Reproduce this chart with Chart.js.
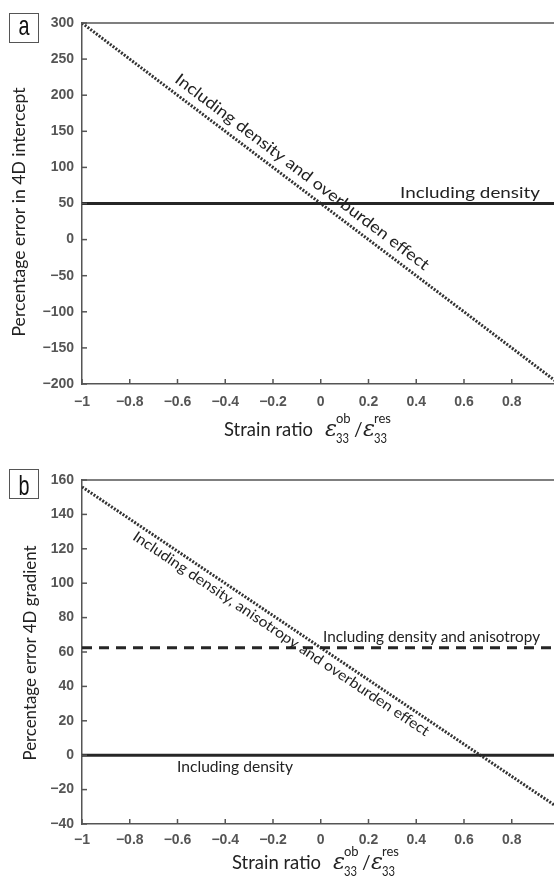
<!DOCTYPE html>
<html><head><meta charset="utf-8">
<script src="https://cdn.jsdelivr.net/npm/chart.js@4.4.1/dist/chart.umd.min.js"></script>
<style>
html,body{margin:0;padding:0;background:#fff;}
#wrap{position:relative;width:554px;height:876px;overflow:hidden;}
canvas{position:absolute;left:0;}
</style></head><body>
<div id="wrap">
<canvas id="ca" width="554" height="460" style="top:0"></canvas>
<canvas id="cb" width="554" height="438" style="top:438px"></canvas>
</div>
<script>
// ---- data ----
const strainRatio = [-1, 1];
const interceptDensity = [50, 50];
const interceptDensityOverburden = [300, -200];
const gradientDensity = [0, 0];
const gradientDensityAnisotropy = [62.5, 62.5];
const gradientDensityAnisotropyOverburden = [156, -31];
const xTickValues = [-1, -0.8, -0.6, -0.4, -0.2, 0, 0.2, 0.4, 0.6, 0.8];
const yTickValuesA = [300, 250, 200, 150, 100, 50, 0, -50, -100, -150, -200];
const yTickValuesB = [160, 140, 120, 100, 80, 60, 40, 20, 0, -20, -40];
const yTitleA = 'Percentage error in 4D intercept';
const yTitleB = 'Percentage error 4D gradient';

function pts(ys) { return strainRatio.map((x, i) => ({x: x, y: ys[i]})); }
function fmt(v) { return v < 0 ? '\u2212' + String(Math.abs(v)) : String(v); }

function drawText(ctx, text, x, y, o) {
  ctx.save();
  ctx.translate(x, y);
  ctx.rotate(o.angle || 0);
  ctx.font = o.font;
  const w = ctx.measureText(text).width;
  const sx = o.width ? o.width / w : 1;
  ctx.scale(sx, 1);
  ctx.textAlign = o.align || 'left';
  ctx.textBaseline = o.baseline || 'alphabetic';
  ctx.fillStyle = o.color || '#222';
  ctx.fillText(text, 0, 0);
  ctx.restore();
  return w * sx;
}

const decoPlugin = {
  id: 'deco',
  afterDraw(chart) {
    const o = chart.options.plugins.deco;
    const ctx = chart.ctx, xs = chart.scales.x, ys = chart.scales.y;
    const a = chart.chartArea;
    ctx.save();
    ctx.strokeStyle = '#555'; ctx.lineWidth = 1.5;
    ctx.beginPath(); ctx.moveTo(a.left, a.top); ctx.lineTo(a.right, a.top); ctx.stroke();
    xs.ticks.forEach(t => {
      const px = xs.getPixelForValue(t.value);
      ctx.beginPath(); ctx.moveTo(px, a.bottom); ctx.lineTo(px, a.bottom - 5); ctx.stroke();
    });
    ys.ticks.forEach(t => {
      const py = ys.getPixelForValue(t.value);
      ctx.beginPath(); ctx.moveTo(a.left, py); ctx.lineTo(a.left + 5, py); ctx.stroke();
    });
    o.notes.forEach(n => {
      let ang = 0;
      if (n.follow !== undefined) {
        const d = chart.data.datasets[n.follow].data;
        const x1 = xs.getPixelForValue(d[0].x), y1 = ys.getPixelForValue(d[0].y);
        const x2 = xs.getPixelForValue(d[1].x), y2 = ys.getPixelForValue(d[1].y);
        ang = Math.atan2(y2 - y1, x2 - x1);
      }
      drawText(ctx, n.text, xs.getPixelForValue(n.x), ys.getPixelForValue(n.y), {
        angle: ang, font: n.size + 'px Lato', width: n.width,
        align: n.align, baseline: 'middle', color: '#222'
      });
    });
    const yt = o.yTitle;
    drawText(ctx, yt.text, yt.cx, yt.cy, {angle: -Math.PI / 2, font: yt.size + 'px Lato',
      width: yt.width, align: 'center', baseline: 'middle', color: '#222'});
    const xt = o.xTitle;
    let x = xt.x0, b = xt.base;
    drawText(ctx, 'Strain ratio', x, b, {font: '19px Lato', width: 89, color: '#222'});
    const eps = (ex, sup) => {
      drawText(ctx, '\u03B5', ex, b, {font: 'italic 22px "DejaVu Serif"', width: 12, color: '#222'});
      drawText(ctx, '33', ex + 11, b + 7, {font: '13px Lato', width: 13, color: '#222'});
      drawText(ctx, sup, ex + 11, b - 13, {font: '13px Lato', color: '#222'});
    };
    eps(x + 101, 'ob');
    drawText(ctx, '/', x + 130, b, {font: '19px Lato', color: '#222'});
    eps(x + 139, 'res');
    const pl = o.panel;
    ctx.strokeStyle = '#555'; ctx.lineWidth = 1;
    ctx.strokeRect(pl.x + 0.5, pl.y + 0.5, 29, 29);
    drawText(ctx, pl.text, pl.x + 15, pl.base, {font: '28px "Liberation Sans"', width: 11,
      align: 'center', color: '#111'});
    ctx.restore();
  }
};

function makeChart(id, cfg) {
  return new Chart(document.getElementById(id), {
    type: 'line',
    data: {datasets: cfg.datasets},
    options: {
      responsive: false, animation: false, devicePixelRatio: 1,
      layout: {padding: {top: cfg.padTop, right: 0, left: 0, bottom: 0}},
      elements: {point: {radius: 0}, line: {tension: 0}},
      plugins: {legend: {display: false}, tooltip: {enabled: false}, deco: cfg.deco},
      scales: {
        x: {
          type: 'linear', min: -1, max: 0.977,
          afterBuildTicks: s => { s.ticks = xTickValues.map(v => ({value: v})); },
          afterFit: s => { s.height = cfg.xAxisH; },
          grid: {display: false, drawTicks: false},
          border: {display: true, color: '#555', width: 1.5},
          ticks: {padding: cfg.xTickPad, color: '#555', font: {family: 'Liberation Sans', size: 14, weight: 'bold'},
            callback: v => fmt(v), maxRotation: 0, autoSkip: false}
        },
        y: {
          type: 'linear', min: cfg.yTicks[cfg.yTicks.length - 1], max: cfg.yTicks[0],
          afterBuildTicks: s => { s.ticks = cfg.yTicks.map(v => ({value: v})); },
          afterFit: s => { s.width = 82; },
          grid: {display: false, drawTicks: false},
          border: {display: true, color: '#555', width: 1.5},
          ticks: {padding: 8, color: '#555', font: {family: 'Liberation Sans', size: 14, weight: 'bold'},
            callback: v => fmt(v), autoSkip: false}
        }
      }
    },
    plugins: [decoPlugin]
  });
}

makeChart('ca', {
  padTop: 23, xAxisH: 76, xTickPad: 10, yTicks: yTickValuesA,
  datasets: [
    {data: pts(interceptDensity), borderColor: '#262626', borderWidth: 3, fill: false},
    {data: pts(interceptDensityOverburden), borderColor: '#333', borderWidth: 3, borderDash: [2, 1.5], fill: false}
  ],
  deco: {
    notes: [
      {text: 'Including density and overburden effect', x: -0.078, y: 93.6, follow: 1, size: 16, width: 314, align: 'center'},
      {text: 'Including density', x: 0.332, y: 65.2, size: 16, width: 140, align: 'left'}
    ],
    yTitle: {text: yTitleA, cx: 20, cy: 212, size: 17, width: 249},
    xTitle: {x0: 224, base: 436},
    panel: {text: 'a', x: 9, y: 13, base: 35}
  }
});

makeChart('cb', {
  padTop: 42, xAxisH: 52, xTickPad: 8, yTicks: yTickValuesB,
  datasets: [
    {data: pts(gradientDensity), borderColor: '#262626', borderWidth: 3, fill: false},
    {data: pts(gradientDensityAnisotropy), borderColor: '#262626', borderWidth: 3, borderDash: [10, 7], fill: false},
    {data: pts(gradientDensityAnisotropyOverburden), borderColor: '#333', borderWidth: 3, borderDash: [2, 1.5], fill: false}
  ],
  deco: {
    notes: [
      {text: 'Including density, anisotropy and overburden effect', x: -0.166, y: 70.5, follow: 2, size: 14.5, width: 354, align: 'center'},
      {text: 'Including density and anisotropy', x: 0.0096, y: 68.7, size: 14.5, width: 217, align: 'left'},
      {text: 'Including density', x: -0.602, y: -6.9, size: 14.5, width: 116, align: 'left'}
    ],
    yTitle: {text: yTitleB, cx: 31, cy: 215, size: 17, width: 215},
    xTitle: {x0: 232, base: 431},
    panel: {text: 'b', x: 9, y: 31, base: 57}
  }
});
</script>
</body></html>
